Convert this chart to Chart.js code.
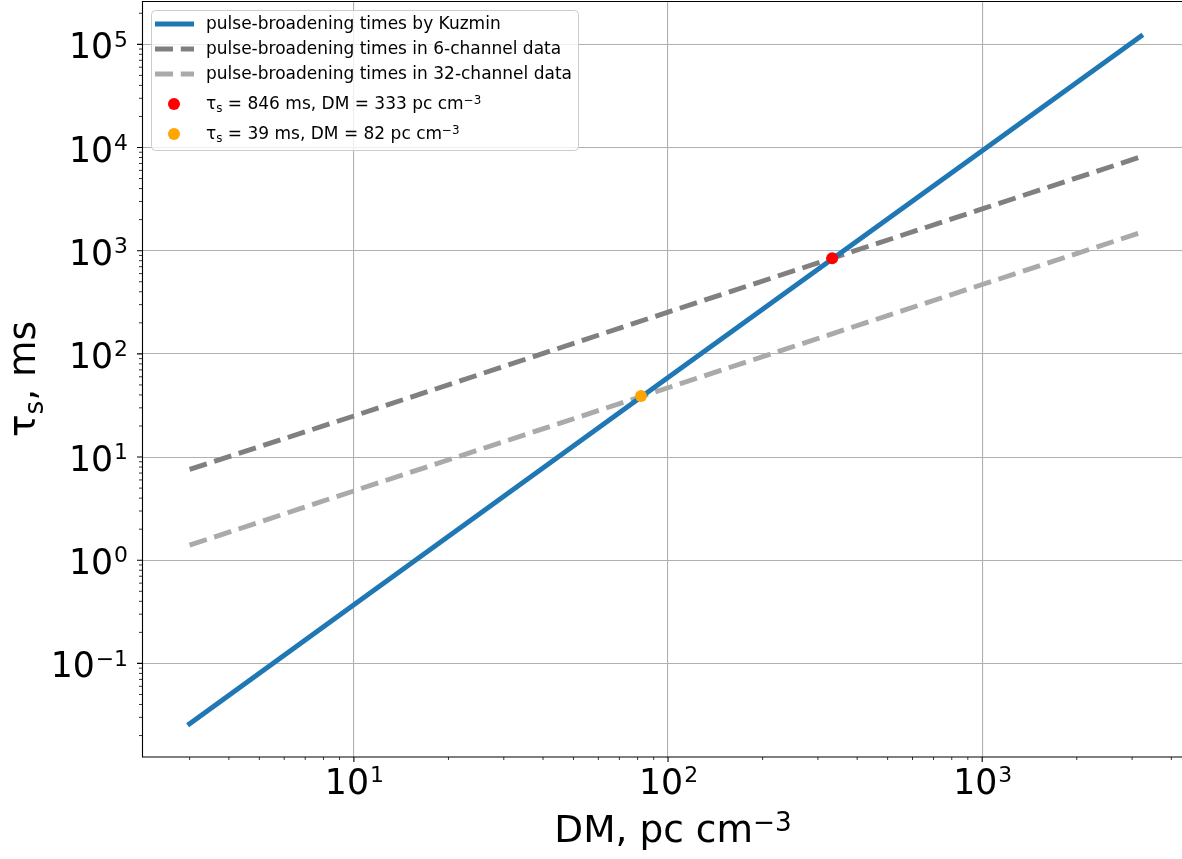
<!DOCTYPE html>
<html>
<head>
<meta charset="utf-8">
<script src="https://cdn.jsdelivr.net/npm/chart.js@4.4.1/dist/chart.umd.min.js"></script>
<style>
  html, body { margin: 0; padding: 0; background: #fff; }
  canvas { display: block; }
</style>
</head>
<body>
<canvas id="myChart" width="1182" height="859"></canvas>
<script>
// values (DM in pc cm^-3, tau in ms)
let dmValues = [3, 10, 100, 1000, 3200];
let kuzminTimes = [0.026, 0.37, 59, 9300, 120000];
let sixChannelTimes = [7.6, 25, 254, 2540, 8130];
let thirtyTwoChannelTimes = [1.4, 4.7, 47, 470, 1500];

let redDM = [333];
let redTau = [846];
let orangeDM = [82];
let orangeTau = [39];

let xTickExponents = [1, 2, 3];
let yTickExponents = [-1, 0, 1, 2, 3, 4, 5];

let xTitle = ["DM, pc cm", "\u22123"];
let yTitle = ["\u03c4", "s", ", ms"];

let legendLabels = [
  "pulse-broadening times by Kuzmin",
  "pulse-broadening times in 6-channel data",
  "pulse-broadening times in 32-channel data",
];

const FONT = '"DejaVu Sans", sans-serif';
const blue = "#1f77b4";
const darkGray = "#808080";
const lightGray = "#aaaaaa";

function toPoints(xs, ys) {
  return xs.map((x, i) => ({ x: x, y: ys[i] }));
}

function expLabel(n) {
  return n < 0 ? "\u2212" + Math.abs(n) : String(n);
}

// draws "10" with a raised exponent, like matplotlib mathtext
function drawPower(ctx, exp, x, y, size, align) {
  let base = "10";
  ctx.font = size + "px " + FONT;
  let bw = ctx.measureText(base).width;
  let supSize = size * 0.63;
  ctx.font = supSize + "px " + FONT;
  let ew = ctx.measureText(exp).width;
  let total = bw + ew;
  let start = x;
  if (align === "right") start = x - total;
  if (align === "center") start = x - total / 2;
  ctx.textAlign = "left";
  ctx.textBaseline = "alphabetic";
  ctx.font = size + "px " + FONT;
  ctx.fillText(base, start, y);
  ctx.font = supSize + "px " + FONT;
  ctx.fillText(exp, start + bw + 1, y - size * 0.34);
}

// text + superscript / subscript pieces
function drawRich(ctx, parts, x, y, size, align) {
  let widths = parts.map((p) => {
    let s = p.kind ? size * 0.7 : size;
    ctx.font = s + "px " + FONT;
    return ctx.measureText(p.text).width;
  });
  let total = widths.reduce((a, b) => a + b, 0);
  let cx = x;
  if (align === "center") cx = x - total / 2;
  ctx.textAlign = "left";
  ctx.textBaseline = "alphabetic";
  parts.forEach((p, i) => {
    let s = p.kind ? size * 0.7 : size;
    let dy = 0;
    if (p.kind === "sup") dy = -size * 0.3;
    if (p.kind === "sub") dy = size * 0.2;
    ctx.font = s + "px " + FONT;
    ctx.fillText(p.text, cx, y + dy);
    cx += widths[i];
  });
}

function minorValues(min, max) {
  let vals = [];
  for (let d = Math.floor(Math.log10(min)); d <= Math.ceil(Math.log10(max)); d++) {
    for (let m = 2; m <= 9; m++) {
      let v = m * Math.pow(10, d);
      if (v >= min && v <= max) vals.push(v);
    }
  }
  return vals;
}

const decorPlugin = {
  id: "decor",
  afterDraw(chart) {
    let ctx = chart.ctx;
    let area = chart.chartArea;
    let xs = chart.scales.x;
    let ys = chart.scales.y;
    ctx.save();

    // spines
    ctx.strokeStyle = "#000";
    ctx.lineWidth = 1.1;
    ctx.beginPath();
    ctx.moveTo(area.right, area.top + 0.5);
    ctx.lineTo(area.left + 0.5, area.top + 0.5);
    ctx.lineTo(area.left + 0.5, area.bottom);
    ctx.lineTo(area.right, area.bottom);
    ctx.stroke();

    // tick marks
    ctx.beginPath();
    xTickExponents.forEach((e) => {
      let px = xs.getPixelForValue(Math.pow(10, e));
      ctx.moveTo(px, area.bottom);
      ctx.lineTo(px, area.bottom + 5);
    });
    yTickExponents.forEach((e) => {
      let py = ys.getPixelForValue(Math.pow(10, e));
      ctx.moveTo(area.left, py);
      ctx.lineTo(area.left - 5, py);
    });
    ctx.stroke();
    ctx.lineWidth = 0.8;
    ctx.beginPath();
    minorValues(xs.min, xs.max).forEach((v) => {
      let px = xs.getPixelForValue(v);
      ctx.moveTo(px, area.bottom);
      ctx.lineTo(px, area.bottom + 3);
    });
    minorValues(ys.min, ys.max).forEach((v) => {
      let py = ys.getPixelForValue(v);
      ctx.moveTo(area.left, py);
      ctx.lineTo(area.left - 3, py);
    });
    ctx.stroke();

    // tick labels
    ctx.fillStyle = "#000";
    xTickExponents.forEach((e) => {
      let px = xs.getPixelForValue(Math.pow(10, e));
      drawPower(ctx, expLabel(e), px, area.bottom + 37, 34.7, "center");
    });
    yTickExponents.forEach((e) => {
      let py = ys.getPixelForValue(Math.pow(10, e));
      drawPower(ctx, expLabel(e), area.left - 15, py + 14, 34.7, "right");
    });

    // axis titles
    drawRich(ctx, [{ text: xTitle[0] }, { text: xTitle[1], kind: "sup" }],
      (area.left + area.right) / 2 + 11, area.bottom + 85, 37.5, "center");
    ctx.save();
    ctx.translate(35, (area.top + area.bottom) / 2);
    ctx.rotate(-Math.PI / 2);
    drawRich(ctx, [{ text: yTitle[0] }, { text: yTitle[1], kind: "sub" }, { text: yTitle[2] }],
      0, 0, 37.5, "center");
    ctx.restore();

    // legend
    let lx = 151, ly = 10, lw = 427, lh = 140;
    ctx.fillStyle = "rgba(255,255,255,0.8)";
    ctx.strokeStyle = "#cccccc";
    ctx.lineWidth = 1;
    ctx.beginPath();
    ctx.roundRect(lx + 0.5, ly + 0.5, lw, lh, 4);
    ctx.fill();
    ctx.stroke();

    let rowY = [24, 49, 74, 103, 133];
    let lineStyles = [
      { color: blue, dash: [] },
      { color: darkGray, dash: [18, 7.8] },
      { color: lightGray, dash: [18, 7.8] },
    ];
    ctx.lineWidth = 4.9;
    lineStyles.forEach((s, i) => {
      ctx.strokeStyle = s.color;
      ctx.setLineDash(s.dash);
      ctx.beginPath();
      ctx.moveTo(155, rowY[i]);
      ctx.lineTo(194, rowY[i]);
      ctx.stroke();
    });
    ctx.setLineDash([]);
    [["red", 3], ["orange", 4]].forEach(([c, i]) => {
      ctx.fillStyle = c;
      ctx.beginPath();
      ctx.arc(174, rowY[i] + 1, 6, 0, Math.PI * 2);
      ctx.fill();
    });

    ctx.fillStyle = "#000";
    ctx.font = "17px " + FONT;
    ctx.textBaseline = "middle";
    ctx.textAlign = "left";
    legendLabels.forEach((t, i) => {
      ctx.fillText(t, 206, rowY[i] + 1);
    });
    let pointRows = [
      [redTau[0], redDM[0]],
      [orangeTau[0], orangeDM[0]],
    ];
    pointRows.forEach(([tau, dm], k) => {
      drawRich(ctx, [
        { text: "\u03c4" },
        { text: "s", kind: "sub" },
        { text: " = " + tau + " ms, DM = " + dm + " pc cm" },
        { text: "\u22123", kind: "sup" },
      ], 206, rowY[3 + k] + 6, 17, "left");
    });

    ctx.restore();
  },
};

const ctx = document.getElementById("myChart");

new Chart(ctx, {
  type: "line",
  data: {
    datasets: [
      {
        label: "red",
        data: toPoints(redDM, redTau),
        showLine: false,
        pointRadius: 6,
        pointBackgroundColor: "red",
        pointBorderWidth: 0,
      },
      {
        label: "orange",
        data: toPoints(orangeDM, orangeTau),
        showLine: false,
        pointRadius: 6,
        pointBackgroundColor: "orange",
        pointBorderWidth: 0,
      },
      {
        label: legendLabels[0],
        data: toPoints(dmValues, kuzminTimes),
        borderColor: blue,
        borderWidth: 4.9,
        borderCapStyle: "square",
        pointRadius: 0,
        tension: 0,
      },
      {
        label: legendLabels[1],
        data: toPoints(dmValues, sixChannelTimes),
        borderColor: darkGray,
        borderWidth: 4.9,
        borderDash: [18, 7.8],
        pointRadius: 0,
        tension: 0,
      },
      {
        label: legendLabels[2],
        data: toPoints(dmValues, thirtyTwoChannelTimes),
        borderColor: lightGray,
        borderWidth: 4.9,
        borderDash: [18, 7.8],
        pointRadius: 0,
        tension: 0,
      },
    ],
  },
  options: {
    responsive: false,
    animation: false,
    layout: {
      autoPadding: false,
      padding: { top: 1, left: 0, right: 0, bottom: 0 },
    },
    plugins: {
      legend: { display: false },
      tooltip: { enabled: false },
    },
    scales: {
      x: {
        type: "logarithmic",
        min: 2.116,
        max: 4325,
        afterBuildTicks: (scale) => {
          scale.ticks = xTickExponents.map((e) => ({ value: Math.pow(10, e), major: true }));
        },
        afterFit: (scale) => {
          scale.height = 102;
        },
        ticks: { display: false },
        grid: { color: "#b0b0b0", lineWidth: 1.1, drawTicks: false },
        border: { display: false },
      },
      y: {
        type: "logarithmic",
        min: 0.01239,
        max: 263000,
        afterBuildTicks: (scale) => {
          scale.ticks = yTickExponents.map((e) => ({ value: Math.pow(10, e), major: true }));
        },
        afterFit: (scale) => {
          scale.width = 142;
        },
        ticks: { display: false },
        grid: { color: "#b0b0b0", lineWidth: 1.1, drawTicks: false },
        border: { display: false },
      },
    },
  },
  plugins: [decorPlugin],
});
</script>
</body>
</html>
